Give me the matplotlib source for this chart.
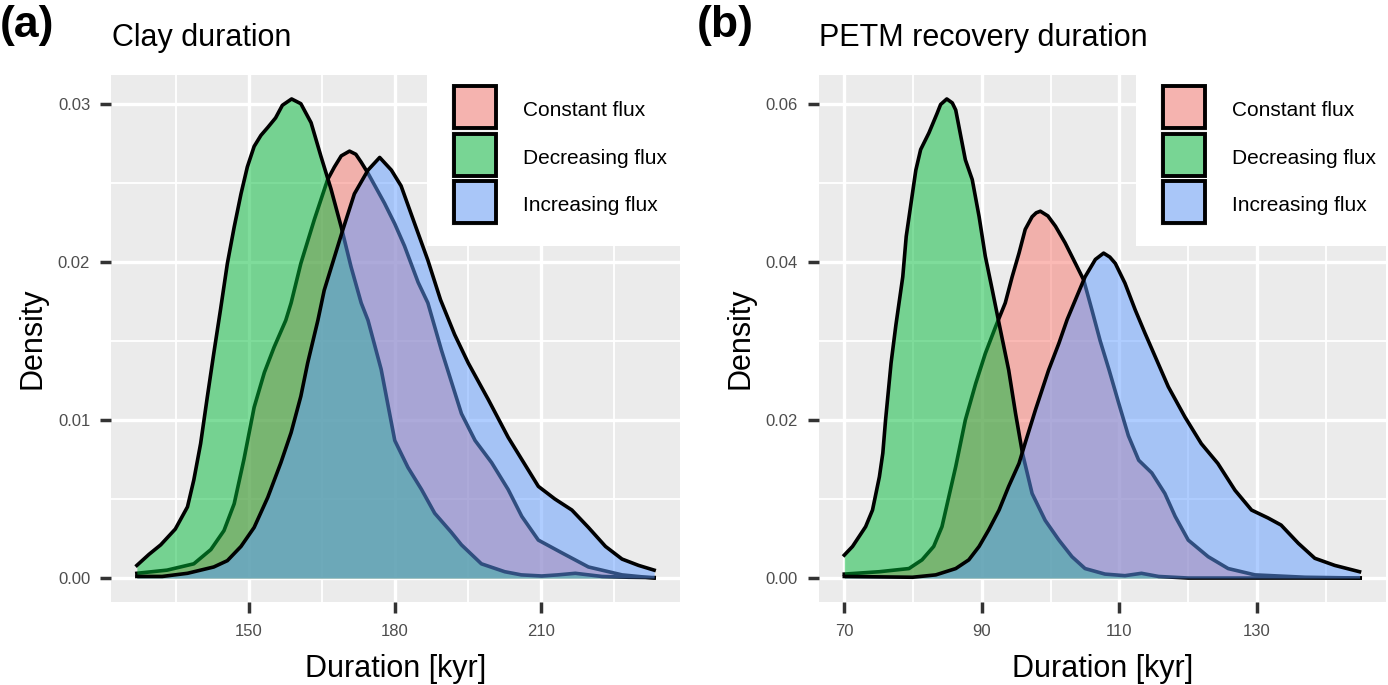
import numpy as np
import matplotlib.pyplot as plt
from matplotlib.patches import Rectangle

plt.rcParams['font.family'] = ['Liberation Sans', 'DejaVu Sans']

# Series and colours (ggplot defaults)
series = ['Constant flux', 'Decreasing flux', 'Increasing flux']
colors = ['#F8766D', '#00BA38', '#619CFF']

# (a) Clay duration - density curves
clay_const_x = [127.0, 133.2, 138.7, 142.2, 144.9, 147.0, 149.0, 151.1, 153.2, 155.2, 157.6, 158.7,
                160.7, 163.5, 166.2, 167.6, 169.0, 170.7, 172.0, 173.1, 174.5, 177.9, 180.0, 182.0,
                184.8, 186.8, 189.6, 193.7, 196.5, 199.9, 203.3, 206.1, 209.5, 214.3, 219.8, 226.7, 233.3]
clay_const_d = [0.0003, 0.0005, 0.0009, 0.0018, 0.0030, 0.0047, 0.0075, 0.0108, 0.0130, 0.0146, 0.0163, 0.0174,
                0.0199, 0.0227, 0.0252, 0.0260, 0.0267, 0.0270, 0.0268, 0.0263, 0.0256, 0.0237, 0.0224, 0.0210,
                0.0187, 0.0174, 0.0144, 0.0104, 0.0087, 0.0073, 0.0056, 0.0039, 0.0024, 0.0016, 0.0007, 0.0002, 0.0000]

clay_decr_x = [127.0, 129.5, 131.9, 134.9, 137.4, 138.7, 140.1, 141.5, 142.8, 144.2, 145.6, 147.0,
               148.4, 149.7, 151.1, 152.5, 153.9, 155.5, 156.9, 158.8, 160.7, 162.8, 164.8, 166.9, 169.0,
               171.0, 173.1, 174.5, 177.2, 180.0, 182.7, 185.5, 188.2, 191.6, 193.7, 197.8, 202.6,
               206.0, 210.2, 213.5, 217.1, 222.6, 228.0, 233.3]
clay_decr_d = [0.0008, 0.0015, 0.0021, 0.0031, 0.0045, 0.0062, 0.0085, 0.0115, 0.0142, 0.0170, 0.0199, 0.0222,
               0.0243, 0.0260, 0.0273, 0.0280, 0.0285, 0.0291, 0.0299, 0.0303, 0.0300, 0.0288, 0.0267, 0.0246, 0.0222,
               0.0197, 0.0174, 0.0163, 0.0132, 0.0087, 0.0070, 0.0056, 0.0041, 0.0029, 0.0021, 0.0009, 0.0004,
               0.0002, 0.00013, 0.0002, 0.0003, 0.0001, 0.00005, 0.00003]

clay_incr_x = [127.0, 132.2, 137.4, 142.8, 145.6, 148.4, 151.1, 153.9, 156.6, 158.7, 160.7, 162.1,
               164.2, 165.5, 167.6, 169.3, 171.7, 174.5, 176.9, 179.3, 181.3, 184.1, 186.8, 189.4,
               192.3, 195.1, 199.2, 203.3, 206.1, 209.5, 212.9, 216.4, 219.8, 223.3, 226.7, 230.1, 233.3]
clay_incr_d = [0.0001, 0.0001, 0.0003, 0.0007, 0.0011, 0.0020, 0.0032, 0.0051, 0.0073, 0.0092, 0.0115, 0.0136,
               0.0163, 0.0182, 0.0203, 0.0220, 0.0243, 0.0258, 0.0266, 0.0258, 0.0248, 0.0224, 0.0201, 0.0176,
               0.0154, 0.0136, 0.0113, 0.0089, 0.0075, 0.0058, 0.0050, 0.0043, 0.0032, 0.0020, 0.0012, 0.0008, 0.0005]

# (b) PETM recovery duration
petm_const_x = [70.0, 75.1, 79.4, 81.3, 83.0, 84.2, 85.2, 86.2, 87.6, 89.1, 90.5, 92.0, 93.4, 94.4,
                95.4, 96.3, 97.3, 97.9, 98.5, 99.6, 100.7, 102.1, 103.6, 104.8, 106.0, 107.2, 108.5, 109.9,
                111.3, 112.8, 114.7, 116.6, 118.1, 120.0, 122.9, 125.8, 129.7, 137.0, 145.0]
petm_const_d = [0.0005, 0.0008, 0.0012, 0.0023, 0.0040, 0.0065, 0.0103, 0.0141, 0.0200, 0.0246, 0.0284, 0.0318,
                0.0348, 0.0381, 0.0411, 0.0441, 0.0457, 0.0462, 0.0464, 0.0458, 0.0445, 0.0424, 0.0398, 0.0377,
                0.0339, 0.0300, 0.0263, 0.0221, 0.0180, 0.0149, 0.0133, 0.0107, 0.0078, 0.0048, 0.0027, 0.0012,
                0.0004, 0.0001, 0.0000]

petm_decr_x = [70.0, 71.2, 73.1, 74.1, 75.1, 75.6, 76.0, 76.8, 77.5, 78.5, 79.0, 79.7, 80.4, 81.1,
               82.3, 83.5, 84.0, 84.9, 85.7, 86.2, 87.6, 88.6, 89.6, 90.5, 91.5, 92.5, 93.9, 94.9, 95.9, 97.3,
               99.2, 101.2, 103.1, 105.0, 107.9, 110.8, 113.2, 115.7, 120.0, 130.0, 145.0]
petm_decr_d = [0.0029, 0.0040, 0.0065, 0.0086, 0.0128, 0.0158, 0.0200, 0.0272, 0.0320, 0.0381, 0.0432, 0.0474,
               0.0516, 0.0542, 0.0563, 0.0588, 0.0599, 0.0606, 0.0601, 0.0592, 0.0529, 0.0504, 0.0457, 0.0407,
               0.0365, 0.0322, 0.0263, 0.0208, 0.0158, 0.0107, 0.0073, 0.0048, 0.0027, 0.0012, 0.0005, 0.0003,
               0.0006, 0.0002, 0.0000, 0.0000, 0.0000]

petm_incr_x = [70.0, 79.9, 83.3, 86.2, 88.1, 89.6, 91.0, 92.5, 93.9, 95.4, 96.3, 97.8, 99.7, 101.2,
               102.4, 103.6, 105.0, 106.5, 107.7, 108.6, 109.4, 110.8, 112.3, 113.7, 115.2, 117.1, 119.5,
               121.9, 124.3, 126.8, 129.2, 131.6, 133.5, 136.0, 138.4, 141.3, 144.9]
petm_incr_d = [0.0002, 0.0001, 0.0004, 0.0012, 0.0023, 0.0040, 0.0061, 0.0086, 0.0116, 0.0145, 0.0171, 0.0213,
               0.0263, 0.0297, 0.0327, 0.0352, 0.0381, 0.0403, 0.0411, 0.0406, 0.0398, 0.0373, 0.0339, 0.0310,
               0.0280, 0.0242, 0.0204, 0.0170, 0.0145, 0.0111, 0.0086, 0.0076, 0.0067, 0.0044, 0.0025, 0.0016,
               0.0008]

clay_xticks = [150, 180, 210]
clay_yticks = [0.00, 0.01, 0.02, 0.03]
petm_xticks = [70, 90, 110, 130]
petm_yticks = [0.00, 0.02, 0.04, 0.06]

W, H = 1388, 685


def fx(px):
    return px / W


def fy(py):
    return 1 - py / H


fig = plt.figure(figsize=(W / 100, H / 100), dpi=100)


def draw_panel(left, right, xs, ds, xticks, yticks, tag, title, tag_x, legend_left):
    ax = fig.add_axes([fx(left), fy(602), (right - left) / W, (602 - 75) / H])
    ax.set_facecolor('#EBEBEB')
    for s in ax.spines.values():
        s.set_visible(False)

    for i, (x, d) in enumerate(zip(xs, ds)):
        ax.fill_between(x, 0, d, color=colors[i], alpha=0.5, lw=0, zorder=2 + 2 * i)
        ax.plot(x, d, color='black', lw=2.6, zorder=3 + 2 * i, solid_joinstyle='round')

    allx = np.concatenate(xs)
    ymax = max(max(d) for d in ds)
    span = allx.max() - allx.min()
    xlim = (allx.min() - 0.05 * span, allx.max() + 0.05 * span)
    ylim = (-0.05 * ymax, 1.05 * ymax)

    dx = xticks[1] - xticks[0]
    dy = yticks[1] - yticks[0]
    xminor = [t + dx / 2 for t in [xticks[0] - dx] + xticks]
    yminor = [t + dy / 2 for t in [yticks[0] - dy] + yticks]
    ax.set_xticks(xticks)
    ax.set_yticks(yticks)
    ax.set_xticks([t for t in xminor if xlim[0] < t < xlim[1]], minor=True)
    ax.set_yticks([t for t in yminor if ylim[0] < t < ylim[1]], minor=True)
    ax.set_yticklabels(['%.2f' % t for t in yticks])
    ax.set_xlim(xlim)
    ax.set_ylim(ylim)
    ax.set_axisbelow(True)
    ax.grid(which='major', color='white', lw=2.4)
    ax.grid(which='minor', color='white', lw=1.3)
    ax.tick_params(which='major', length=8, width=2.5, color='#333333',
                   labelcolor='#4D4D4D', labelsize=12)
    ax.tick_params(axis='x', pad=8)
    ax.tick_params(axis='y', pad=7)
    ax.tick_params(which='minor', length=0)

    cx = (left + right) / 2
    fig.text(fx(cx), fy(677), 'Duration [kyr]', ha='center', va='baseline', fontsize=22)
    fig.text(fx(left - 78), fy(338.5), 'Density', rotation=90, ha='center', va='center', fontsize=22)
    fig.text(fx(tag_x), fy(37), tag, ha='left', va='baseline', fontsize=32, fontweight='bold')
    fig.text(fx(left + 1), fy(46), title, ha='left', va='baseline', fontsize=22)

    # legend inside the top right corner
    fig.add_artist(Rectangle((fx(legend_left), fy(246)), fx(right) - fx(legend_left), (246 - 60) / H,
                             transform=fig.transFigure, facecolor='white', edgecolor='none', zorder=5))
    for i, name in enumerate(series):
        top = 83.5 + i * 47.5
        fig.add_artist(Rectangle((fx(legend_left + 24), fy(top + 47)), 47 / W, 47 / H,
                                 transform=fig.transFigure, facecolor='#F2F2F2', edgecolor='none', zorder=6))
        fig.add_artist(Rectangle((fx(legend_left + 27), fy(top + 44.5)), 42 / W, 42 / H,
                                 transform=fig.transFigure, facecolor=colors[i], alpha=0.5,
                                 edgecolor='none', zorder=7))
        fig.add_artist(Rectangle((fx(legend_left + 27), fy(top + 44.5)), 42 / W, 42 / H,
                                 transform=fig.transFigure, facecolor='none',
                                 edgecolor='black', lw=2.8, zorder=8))
        fig.text(fx(legend_left + 96), fy(top + 27), name, ha='left', va='center',
                 fontsize=15, zorder=9)
    return ax


draw_panel(111, 680, [clay_const_x, clay_decr_x, clay_incr_x],
           [clay_const_d, clay_decr_d, clay_incr_d], clay_xticks, clay_yticks,
           '(a)', 'Clay duration', 0, 427)
draw_panel(818.5, 1386, [petm_const_x, petm_decr_x, petm_incr_x],
           [petm_const_d, petm_decr_d, petm_incr_d], petm_xticks, petm_yticks,
           '(b)', 'PETM recovery duration', 697, 1136)

fig.savefig('out.png', dpi=100)
